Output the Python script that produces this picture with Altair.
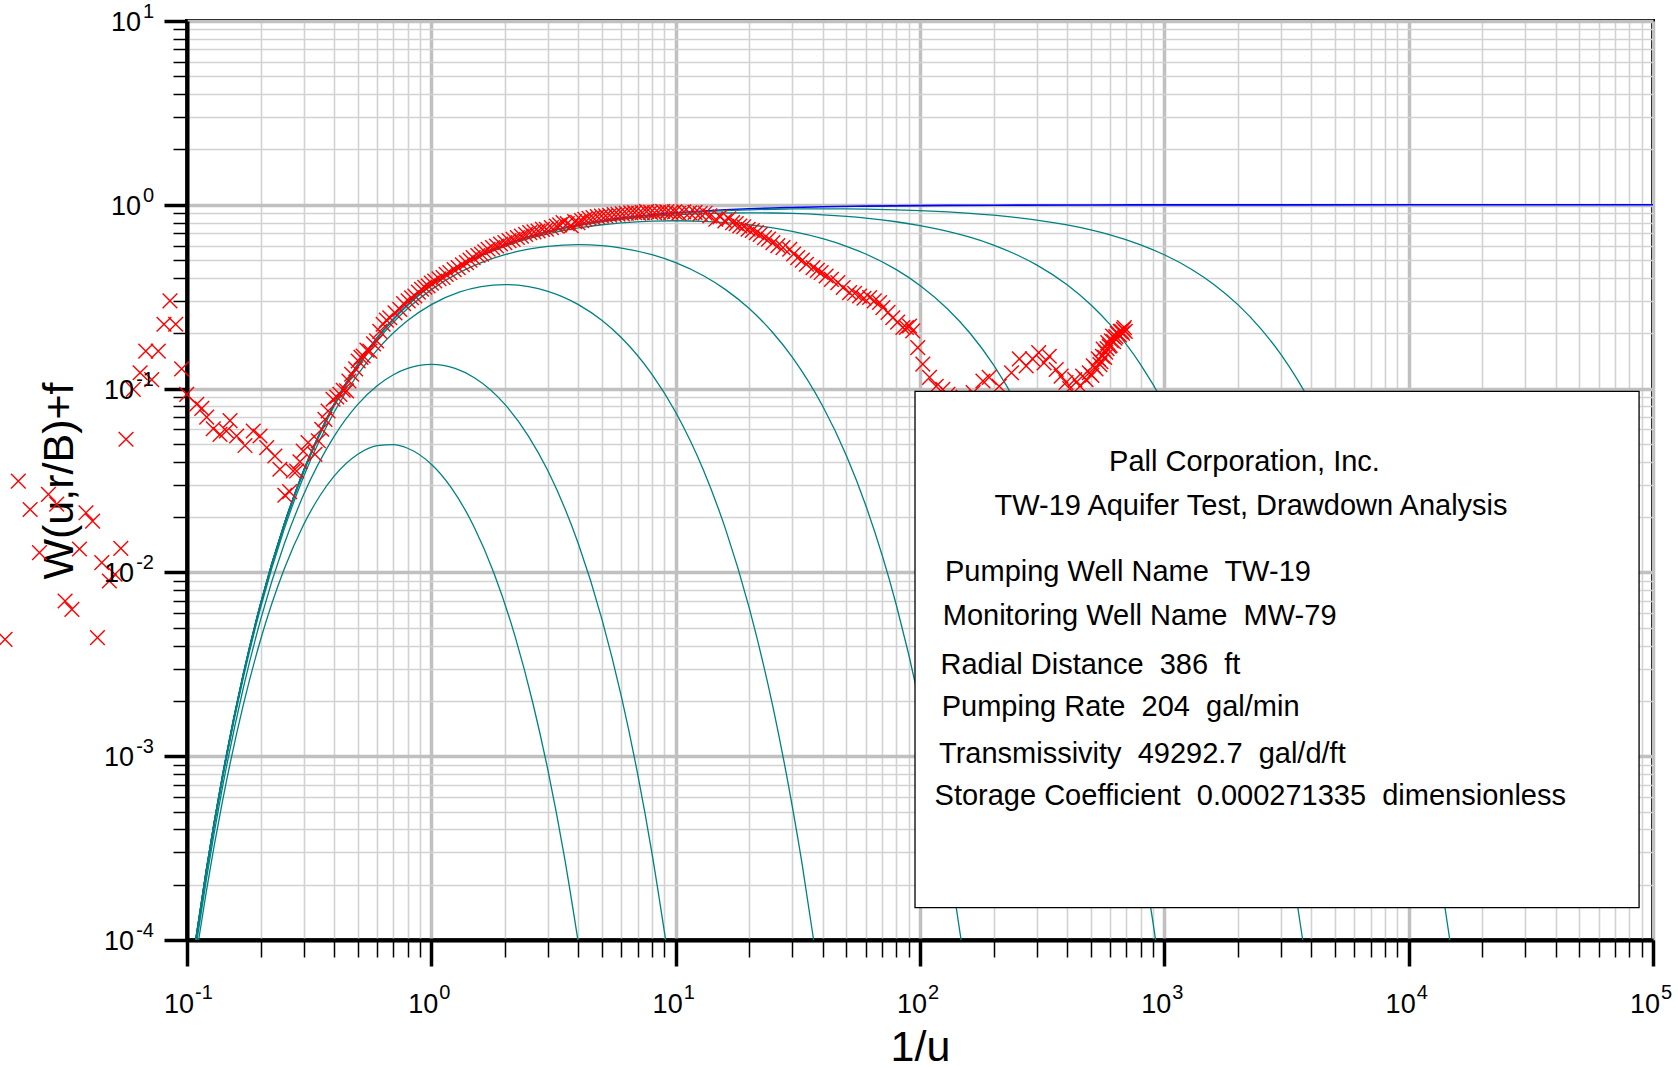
import altair as alt
import pandas as pd

FONT = "Liberation Sans, Arial, Helvetica, sans-serif"

# ---------------- type curves ----------------
THEIS_X = [0.1086, 0.12, 0.14, 0.17, 0.2, 0.25, 0.3, 0.4, 0.5, 0.6, 0.8, 1, 1.3, 1.6, 2, 2.5, 3, 4, 5, 6,
           8, 10, 13, 16, 20, 25, 30, 40, 60, 100, 200, 500, 1000, 10000, 100000]
THEIS_Y = [1.0e-4, 2.40e-4, 7.91e-4, 2.79e-3, 6.74e-3, 0.0183, 0.0357, 0.0821, 0.1353, 0.1889, 0.2865, 0.3679,
           0.4633, 0.5353, 0.6065, 0.6703, 0.7165, 0.7788, 0.8187, 0.8465, 0.8825, 0.9048, 0.926, 0.9394, 0.9512,
           0.9608, 0.9672, 0.9753, 0.9835, 0.990, 0.995, 0.998, 0.999, 0.9999, 1.0]

RB30_X = [0.1116, 0.12, 0.14, 0.17, 0.2, 0.25, 0.3, 0.35, 0.4, 0.5, 0.6, 0.7, 0.8, 1.0, 1.2, 1.5, 1.8, 2.2, 2.6,
          3.0, 3.5, 3.98]
RB30_Y = [1.0e-4, 1.84e-4, 5.77e-4, 1.90e-3, 4.30e-3, 0.01044, 0.01817, 0.02613, 0.03337, 0.04394, 0.04896,
          0.04961, 0.04736, 0.03877, 0.02921, 0.01756, 0.00999, 0.00450, 0.00196, 8.39e-4, 2.86e-4, 1.0e-4]

RB20_X = [0.1099, 0.12, 0.14, 0.17, 0.2, 0.25, 0.3, 0.4, 0.5, 0.6, 0.7, 0.8, 1.0, 1.25, 1.5, 2, 2.5, 3, 4, 5, 6,
          7, 8, 9.1]
RB20_Y = [1.0e-4, 2.13e-4, 6.87e-4, 2.35e-3, 5.52e-3, 0.01426, 0.02644, 0.0550, 0.0821, 0.1037, 0.1190, 0.1287,
          0.1353, 0.1287, 0.1146, 0.0821, 0.0550, 0.0357, 0.01426, 5.52e-3, 2.10e-3, 7.91e-4, 2.96e-4, 1.0e-4]

RB10_X = [0.1089, 0.12, 0.14, 0.17, 0.2, 0.25, 0.3, 0.4, 0.5, 0.6, 0.8, 1.0, 1.3, 1.6, 2, 2.5, 3, 4, 5, 6, 8, 10,
          13, 16, 20, 25, 30, 33, 36.7]
RB10_Y = [1.0e-4, 2.33e-4, 7.63e-4, 2.67e-3, 6.41e-3, 0.0172, 0.03311, 0.0743, 0.1194, 0.1625, 0.2346, 0.2865,
          0.3348, 0.3588, 0.3679, 0.3588, 0.3385, 0.2865, 0.2346, 0.1889, 0.1194, 0.0743, 0.0359, 0.0172, 6.41e-3,
          1.86e-3, 5.35e-4, 2.54e-4, 1.0e-4]

RB05_X = [0.10865, 0.12, 0.14, 0.17, 0.2, 0.25, 0.3, 0.4, 0.5, 0.6, 0.8, 1, 1.3, 1.6, 2, 2.5, 3, 4, 5, 6, 8, 10,
          13, 16, 20, 25, 30, 40, 50, 60, 80, 100, 120, 140, 147.3]
RB05_Y = [1.0e-4, 2.39e-4, 7.83e-4, 2.76e-3, 6.65e-3, 0.01803, 0.03502, 0.0801, 0.1312, 0.1820, 0.2725, 0.3456,
          0.4273, 0.4843, 0.5353, 0.5734, 0.5941, 0.6065, 0.5990, 0.5818, 0.5353, 0.4843, 0.4109, 0.3456, 0.2725,
          0.2014, 0.1484, 0.0801, 0.0431, 0.02313, 6.65e-3, 1.91e-3, 5.48e-4, 1.57e-4, 1.0e-4]

RB02_X = [0.10857, 0.12, 0.14, 0.17, 0.2, 0.25, 0.3, 0.4, 0.5, 0.6, 0.8, 1, 1.3, 1.6, 2, 2.5, 3, 4, 5, 6, 8, 10,
          13, 16, 20, 25, 30, 40, 50, 60, 80, 100, 130, 160, 200, 250, 300, 400, 500, 600, 700, 800, 900, 920.9]
RB02_Y = [1.0e-4, 2.40e-4, 7.90e-4, 2.78e-3, 6.72e-3, 0.01827, 0.03557, 0.0818, 0.1347, 0.1877, 0.2842, 0.3642,
          0.4575, 0.5268, 0.5945, 0.6538, 0.6954, 0.7483, 0.7788, 0.7972, 0.8146, 0.8187, 0.8131, 0.8005, 0.7788,
          0.7483, 0.7165, 0.6538, 0.5945, 0.5397, 0.4437, 0.3642, 0.2704, 0.2007, 0.1347, 0.0818, 0.0496, 0.01827,
          6.72e-3, 2.47e-3, 9.11e-4, 3.35e-4, 1.23e-4, 1.0e-4]

RB01_X = [0.10857, 0.12, 0.14, 0.17, 0.2, 0.25, 0.3, 0.4, 0.5, 0.6, 0.8, 1, 1.3, 1.6, 2, 2.5, 3, 4, 5, 6, 8, 10,
          13, 16, 20, 25, 30, 40, 50, 60, 80, 100, 130, 160, 200, 250, 300, 400, 500, 600, 800, 1000, 1300, 1600,
          2000, 2500, 3000, 3400, 3684]
RB01_Y = [1.0e-4, 2.40e-4, 7.91e-4, 2.79e-3, 6.73e-3, 0.01829, 0.03564, 0.0820, 0.1351, 0.1886, 0.2859, 0.3670,
          0.4618, 0.5332, 0.6035, 0.6661, 0.7111, 0.7710, 0.8085, 0.8339, 0.8650, 0.8825, 0.8964, 0.9026, 0.9048,
          0.9026, 0.8973, 0.8825, 0.8650, 0.8465, 0.8086, 0.7711, 0.7170, 0.6662, 0.6035, 0.5331, 0.4709, 0.3670,
          0.2859, 0.2228, 0.1351, 0.0820, 0.03875, 0.01831, 6.73e-3, 1.93e-3, 5.53e-4, 2.03e-4, 1.0e-4]

RB005_X = [0.10857, 0.12, 0.14, 0.17, 0.2, 0.25, 0.3, 0.4, 0.5, 0.6, 0.8, 1, 1.3, 1.6, 2, 2.5, 3, 4, 5, 6, 8, 10,
           13, 16, 20, 25, 30, 40, 50, 60, 80, 100, 130, 160, 200, 250, 300, 400, 500, 600, 800, 1000, 1300, 1600,
           2000, 2500, 3000, 4000, 5000, 6000, 8000, 10000, 12000, 14000, 14736]
RB005_Y = [1.0e-4, 2.40e-4, 7.91e-4, 2.79e-3, 6.74e-3, 0.0183, 0.0357, 0.0821, 0.1352, 0.1888, 0.2864, 0.3676,
           0.4629, 0.5348, 0.6057, 0.6693, 0.7152, 0.7769, 0.8162, 0.8433, 0.8781, 0.8992, 0.9183, 0.9300, 0.9394,
           0.9459, 0.9492, 0.9512, 0.9500, 0.9473, 0.9394, 0.9300, 0.9149, 0.8992, 0.8781, 0.8519, 0.8263, 0.7769,
           0.7301, 0.6862, 0.6058, 0.5347, 0.4434, 0.3677, 0.2864, 0.2095, 0.1533, 0.0821, 0.0439, 0.02351,
           6.74e-3, 1.93e-3, 5.53e-4, 1.58e-4, 1.0e-4]

# ---------------- observed drawdown data (red crosses) ----------------
OBS_A_X = [0.0852, 0.0805, 0.0899, 0.0678, 0.0763, 0.0951, 0.0643, 0.0717, 0.0603, 0.0563, 0.0204, 0.0228,
           0.0271, 0.0293, 0.0386, 0.0411, 0.0249, 0.0363, 0.0536, 0.0448, 0.0481, 0.0507, 0.0317, 0.0338,
           0.0180, 0.0430]
OBS_A_Y = [0.300, 0.224, 0.224, 0.160, 0.160, 0.128, 0.122, 0.112, 0.099, 0.053, 0.0314, 0.0220, 0.0266, 0.0235,
           0.0211, 0.0190, 0.0128, 0.0134, 0.0135, 0.0113, 0.00898, 0.00977, 0.00699, 0.00629, 0.00432, 0.00442]

OBS_B_X = [0.0997, 0.1096, 0.1150, 0.1204, 0.1281, 0.1365, 0.1450, 0.150, 0.1597, 0.1727, 0.1867, 0.1990,
           0.2120, 0.2290, 0.2400, 0.2515, 0.2630, 0.2720]
OBS_B_Y = [0.093, 0.0822, 0.0780, 0.0700, 0.0605, 0.0564, 0.0588, 0.0670, 0.0552, 0.0490, 0.0588, 0.0552,
           0.0477, 0.0430, 0.0364, 0.0263, 0.0275, 0.0356]

OBS_C_X = [0.281, 0.290, 0.299, 0.313, 0.334, 0.345, 0.356, 0.367, 0.378, 0.396,
           0.410, 0.4225, 0.436, 0.450, 0.460, 0.472, 0.490, 0.502, 0.515, 0.526,
           0.545, 0.560, 0.580, 0.597, 0.615, 0.635, 0.655, 0.676, 0.710, 0.743,
           0.770, 0.804, 0.830, 0.856, 0.885, 0.912, 0.940, 0.970, 1.000, 1.033,
           1.075, 1.117, 1.150, 1.191, 1.240, 1.288, 1.340, 1.393, 1.440, 1.483,
           1.550, 1.605, 1.655, 1.708, 1.780, 1.848, 1.920, 2.000, 2.080, 2.161,
           2.250, 2.337, 2.430, 2.528, 2.630, 2.735, 2.850, 2.958, 3.100, 3.250,
           3.350, 3.460, 3.600, 3.740, 3.860, 3.980, 4.120, 4.250, 4.420, 4.590,
           4.780, 4.970, 5.170, 5.370, 5.600, 5.810, 6.050, 6.280, 6.550, 6.790,
           7.050, 7.300, 7.600, 7.900, 8.200, 8.500, 8.850, 9.200, 9.550, 9.900]
OBS_C_Y = [0.0356, 0.0400, 0.0457, 0.0508, 0.0439, 0.0520, 0.0601, 0.0680, 0.0755, 0.0875,
           0.0900, 0.0931, 0.0980, 0.0971, 0.1100, 0.1197, 0.1280, 0.1413, 0.1480, 0.1504,
           0.1620, 0.1600, 0.1750, 0.1817, 0.2050, 0.2240, 0.2360, 0.2430, 0.2580, 0.2700,
           0.2900, 0.3000, 0.3120, 0.3190, 0.3350, 0.3470, 0.3560, 0.3620, 0.3750, 0.3850,
           0.3960, 0.4020, 0.4180, 0.4280, 0.4440, 0.4550, 0.4720, 0.4850, 0.5000, 0.5160,
           0.5300, 0.5380, 0.5550, 0.5730, 0.5850, 0.5970, 0.6120, 0.6230, 0.6380, 0.6490,
           0.6640, 0.6760, 0.6900, 0.7060, 0.7120, 0.7200, 0.7350, 0.7360, 0.7520, 0.7670,
           0.7780, 0.8000, 0.7900, 0.7670, 0.8100, 0.8000, 0.8200, 0.8340, 0.8450, 0.8520,
           0.8620, 0.8690, 0.8720, 0.8770, 0.8850, 0.8880, 0.8930, 0.8990, 0.9050, 0.9070,
           0.9000, 0.9070, 0.9180, 0.9100, 0.9050, 0.9100, 0.9200, 0.9150, 0.9080, 0.9150]

OBS_D_X = [10.3, 10.8, 11.4, 12.0, 12.6, 13.2, 13.8, 14.6, 15.2, 15.9,
           16.5, 17.1, 17.7, 18.3, 19.0, 19.8, 20.6, 21.4, 22.2, 23.1,
           24.0, 25.0, 26.2, 27.5, 29.3, 30.4, 31.6, 33.0, 34.3, 36.5,
           38.0, 39.4, 41.3, 43.4, 46.1, 48.5, 51.5, 54.0, 56.6, 59.0,
           62.2, 65.0, 68.3, 70.5, 74.0, 77.4, 81.0, 85.1, 88.0, 90.6,
           93.4, 97.9, 102.7, 109.4, 116.5, 124.0]
OBS_D_Y = [0.900, 0.915, 0.905, 0.910, 0.895, 0.900, 0.870, 0.834, 0.860, 0.817,
           0.840, 0.800, 0.790, 0.767, 0.760, 0.736, 0.725, 0.706, 0.690, 0.663,
           0.650, 0.623, 0.600, 0.585, 0.573, 0.540, 0.516, 0.500, 0.475, 0.455,
           0.440, 0.428, 0.410, 0.393, 0.377, 0.355, 0.333, 0.330, 0.319, 0.310,
           0.313, 0.300, 0.294, 0.276, 0.260, 0.243, 0.230, 0.215, 0.215, 0.219,
           0.206, 0.167, 0.136, 0.115, 0.103, 0.099]

OBS_E_X = [130, 140, 150, 165, 181, 192, 211, 237, 255, 272,
           289, 306, 322, 338, 361, 378, 396, 410, 430, 452,
           463, 478, 493, 505, 512, 525, 537, 550, 562, 575,
           587, 600, 614, 628, 642, 655, 668, 680, 692,
           545, 558, 570, 583, 595, 607, 620, 633, 646, 660, 674, 686]
OBS_E_Y = [0.093, 0.088, 0.090, 0.095, 0.110, 0.115, 0.103, 0.122, 0.145, 0.133,
           0.145, 0.157, 0.138, 0.150, 0.127, 0.117, 0.108, 0.100, 0.112, 0.103,
           0.117, 0.112, 0.122, 0.118, 0.133, 0.128, 0.145, 0.140, 0.164, 0.158,
           0.178, 0.172, 0.193, 0.188, 0.200, 0.196, 0.205, 0.210, 0.205,
           0.135, 0.150, 0.148, 0.165, 0.170, 0.182, 0.180, 0.192, 0.198, 0.205, 0.200, 0.215]

# ---------------- axes ----------------
X_DECADES = [0.1, 1, 10, 100, 1000, 10000, 100000]
X_EXPONENTS = ["-1", "0", "1", "2", "3", "4", "5"]
Y_DECADES = [10, 1, 0.1, 0.01, 0.001, 0.0001]
Y_EXPONENTS = ["1", "0", "-1", "-2", "-3", "-4"]
MINOR_STEPS = [1, 2, 3, 4, 5, 6, 7, 8, 9]
X_TICKS = [m * d for d in X_DECADES[:-1] for m in MINOR_STEPS] + [X_DECADES[-1]]
Y_TICKS = [m * d for d in sorted(Y_DECADES)[:-1] for m in MINOR_STEPS] + [max(Y_DECADES)]

# ---------------- info box ----------------
BOX = {"x0": 95.4, "x1": 87700, "y0": 0.0966, "y1": 1.50e-4}
TITLE_LINES = ["Pall Corporation, Inc.", "TW-19 Aquifer Test, Drawdown Analysis"]
TITLE_X = [2129, 2263]
TITLE_Y = [0.0354, 0.0206]
INFO_LINES = ["Pumping Well Name\u00a0 TW-19",
              "Monitoring Well Name\u00a0 MW-79",
              "Radial Distance\u00a0 386\u00a0 ft",
              "Pumping Rate\u00a0 204\u00a0 gal/min",
              "Transmissivity\u00a0 49292.7\u00a0 gal/d/ft",
              "Storage Coefficient\u00a0 0.000271335\u00a0 dimensionless"]
INFO_X = [126.6, 123.9, 121.3, 122.7, 119.6, 114.7]
INFO_Y = [0.008979, 0.005161, 0.002818, 0.001663, 0.000915, 0.000540]

# ---------------- build ----------------
curves = []
for name, xs, ys in [("3", RB30_X, RB30_Y), ("2", RB20_X, RB20_Y), ("1", RB10_X, RB10_Y),
                     ("0.5", RB05_X, RB05_Y), ("0.2", RB02_X, RB02_Y), ("0.1", RB01_X, RB01_Y),
                     ("0.05", RB005_X, RB005_Y)]:
    d = pd.DataFrame({"x": xs, "y": ys})
    d["curve"] = name
    curves.append(d)
teal_df = pd.concat(curves, ignore_index=True)
blue_df = pd.DataFrame({"x": THEIS_X, "y": THEIS_Y})
obs_df = pd.concat([pd.DataFrame({"x": a, "y": b}) for a, b in
                    [(OBS_A_X, OBS_A_Y), (OBS_B_X, OBS_B_Y), (OBS_C_X, OBS_C_Y),
                     (OBS_D_X, OBS_D_Y), (OBS_E_X, OBS_E_Y)]], ignore_index=True)

X_MIN, X_MAX = 0.1, 1e5
Y_MIN, Y_MAX = 1e-4, 10
xscale = alt.Scale(type="log", domain=[X_MIN, X_MAX], nice=False)
yscale = alt.Scale(type="log", domain=[Y_MIN, Y_MAX], nice=False)
MAJOR = "abs(log(datum.value)/LN10 - round(log(datum.value)/LN10)) < 0.001"

xaxis = alt.Axis(
    values=X_TICKS, labels=False, grid=True,
    gridColor={"condition": {"test": MAJOR, "value": "#c0c0c0"}, "value": "#d2d2d2"},
    gridWidth={"condition": {"test": MAJOR, "value": 3.5}, "value": 1.6},
    tickSize={"condition": {"test": MAJOR, "value": 26}, "value": 17},
    tickWidth={"condition": {"test": MAJOR, "value": 3.5}, "value": 1.5},
    tickColor="black", domainColor="black", domainWidth=4,
    title="1/u", titleFont=FONT, titleFontSize=43, titleFontWeight="normal", titleColor="black",
    titleY=120, titleBaseline="alphabetic")
yaxis = alt.Axis(
    values=Y_TICKS, labels=False, grid=True,
    gridColor={"condition": {"test": MAJOR, "value": "#c0c0c0"}, "value": "#d2d2d2"},
    gridWidth={"condition": {"test": MAJOR, "value": 3.5}, "value": 1.6},
    tickSize={"condition": {"test": MAJOR, "value": 23}, "value": 14},
    tickWidth={"condition": {"test": MAJOR, "value": 3.5}, "value": 1.5},
    tickColor="black", domainColor="black", domainWidth=4,
    title="W(u,r/B)+f", titleFont=FONT, titleFontSize=43, titleFontWeight="normal", titleColor="black",
    titleAngle=270, titleX=-128, titleY=459.5, titleAlign="center", titleBaseline="middle")


def XE(field="x"):
    return alt.X(field, type="quantitative", scale=xscale, axis=xaxis)


def YE(field="y"):
    return alt.Y(field, type="quantitative", scale=yscale, axis=yaxis)


blue = alt.Chart(blue_df).mark_line(color="#0000ff", strokeWidth=1.6, interpolate="monotone").encode(
    x=XE(), y=YE())
teal = alt.Chart(teal_df).mark_line(color="#008080", strokeWidth=1.3, interpolate="monotone").encode(
    x=XE(), y=YE(), detail="curve:N")
obs = alt.Chart(obs_df).mark_point(shape="M-1,-1L1,1M-1,1L1,-1", size=215, filled=False,
                                   color="#ff0000", strokeWidth=1.4, opacity=1).encode(x=XE(), y=YE())

box_df = pd.DataFrame({"x": [BOX["x0"]], "x2": [BOX["x1"]], "y": [BOX["y0"]], "y2": [BOX["y1"]]})
box = alt.Chart(box_df).mark_rect(fill="white", stroke="black", strokeWidth=1.3).encode(
    x=XE(), x2="x2:Q", y=YE(), y2="y2:Q")

title_df = pd.DataFrame({"x": TITLE_X, "y": TITLE_Y, "t": TITLE_LINES})
titles = alt.Chart(title_df).mark_text(font=FONT, fontSize=29, align="center", baseline="alphabetic",
                                       color="black").encode(x=XE(), y=YE(), text="t:N")
info_df = pd.DataFrame({"x": INFO_X, "y": INFO_Y, "t": INFO_LINES})
info = alt.Chart(info_df).mark_text(font=FONT, fontSize=29, align="left", baseline="alphabetic",
                                    color="black").encode(x=XE(), y=YE(), text="t:N")

xl_df = pd.DataFrame({"x": X_DECADES, "y": [Y_MIN] * len(X_DECADES), "b": ["10"] * len(X_DECADES),
                      "e": X_EXPONENTS})
xl_base = alt.Chart(xl_df).mark_text(font=FONT, fontSize=27, align="right", baseline="alphabetic",
                                     dx=7, dy=73, color="black").encode(x=XE(), y=YE(), text="b:N")
xl_exp = alt.Chart(xl_df).mark_text(font=FONT, fontSize=20, align="left", baseline="alphabetic",
                                    dx=8, dy=59, color="black").encode(x=XE(), y=YE(), text="e:N")

yl_df = pd.DataFrame({"x": [X_MIN] * len(Y_DECADES), "y": Y_DECADES, "b": ["10"] * len(Y_DECADES),
                      "e": Y_EXPONENTS})
NEG = "indexof(datum.e, '-') >= 0"
yl_base_neg = alt.Chart(yl_df).transform_filter(NEG).mark_text(
    font=FONT, fontSize=27, align="right", baseline="alphabetic", dx=-53, dy=10, color="black").encode(
    x=XE(), y=YE(), text="b:N")
yl_base_pos = alt.Chart(yl_df).transform_filter("!(" + NEG + ")").mark_text(
    font=FONT, fontSize=27, align="right", baseline="alphabetic", dx=-46, dy=10, color="black").encode(
    x=XE(), y=YE(), text="b:N")
yl_exp = alt.Chart(yl_df).mark_text(font=FONT, fontSize=20, align="right", baseline="alphabetic",
                                    dx=-33, dy=-3, color="black").encode(x=XE(), y=YE(), text="e:N")

chart = alt.layer(blue, teal, obs, box, titles, info, xl_base, xl_exp, yl_base_neg, yl_base_pos, yl_exp).properties(
    width=1466, height=919,
    autosize=alt.AutoSizeParams(type="none"),
    padding={"left": 187, "top": 21, "right": 25, "bottom": 128},
    background="white",
).configure_view(stroke="black", strokeWidth=4)

chart.save("out.html", embed_options={"renderer": "svg", "actions": False})
